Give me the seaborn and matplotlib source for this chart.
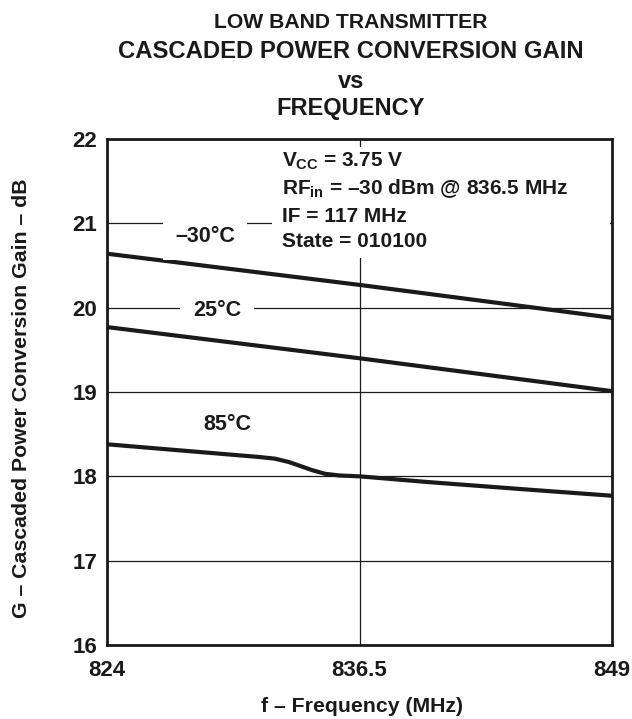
import numpy as np
import pandas as pd
import seaborn as sns
import matplotlib.pyplot as plt
from matplotlib.patches import Rectangle

# Data
freq_m30 = [824, 836.5, 849]
gain_m30 = [20.64, 20.27, 19.88]
freq_25 = [824, 836.5, 849]
gain_25 = [19.77, 19.40, 19.01]
freq_85 = [824, 827, 830, 831.5, 832.3, 833.0, 833.6, 834.2, 834.8, 835.5, 836.5, 840, 845, 849]
gain_85 = [18.38, 18.32, 18.26, 18.23, 18.21, 18.17, 18.12, 18.07, 18.03, 18.01, 18.00, 17.93, 17.84, 17.77]
labels = ["\u201330\u00b0C", "25\u00b0C", "85\u00b0C"]

x_ticks = [824, 836.5, 849]
x_ticklabels = ["824", "836.5", "849"]
y_ticks = [16, 17, 18, 19, 20, 21, 22]

df = pd.concat([
    pd.DataFrame({"f": freq_m30, "g": gain_m30, "T": labels[0]}),
    pd.DataFrame({"f": freq_25, "g": gain_25, "T": labels[1]}),
    pd.DataFrame({"f": freq_85, "g": gain_85, "T": labels[2]}),
])

sns.set_theme(style="white")
plt.rcParams["font.family"] = ["Liberation Sans", "DejaVu Sans"]
plt.rcParams["font.weight"] = "bold"
plt.rcParams["mathtext.fontset"] = "custom"
plt.rcParams["mathtext.rm"] = "Liberation Sans:bold"
plt.rcParams["mathtext.it"] = "Liberation Sans:bold"
plt.rcParams["mathtext.bf"] = "Liberation Sans:bold"

INK = "#1a1a1a"
W, H = 632, 719
fig = plt.figure(figsize=(W / 100, H / 100), dpi=100)
ax = fig.add_axes([107 / W, 1 - 645 / H, (612 - 107) / W, (645 - 139) / H])

sns.lineplot(data=df, x="f", y="g", hue="T", palette=[INK] * 3,
             legend=False, ax=ax, linewidth=3.0, sort=False, zorder=5)

ax.set_xlim(824, 849)
ax.set_ylim(16, 22)
ax.set_xticks(x_ticks)
ax.set_xticklabels(x_ticklabels)
ax.set_yticks(y_ticks)
ax.grid(True, color=INK, linewidth=0.9)
ax.set_axisbelow(True)
for s in ax.spines.values():
    s.set_linewidth(2.0)
    s.set_color(INK)
ax.tick_params(axis="both", length=0, labelsize=16, colors=INK)
ax.tick_params(axis="y", pad=7)
ax.tick_params(axis="x", pad=11)
for lab in ax.get_xticklabels() + ax.get_yticklabels():
    lab.set_fontweight("bold")
ax.set_xlabel("")
ax.set_ylabel("")

def ax_xy(px, py):
    return (px - 107) / 505, 1 - (py - 139) / 506

# White box behind the conditions block
x0, y0 = ax_xy(272, 258)
x1, y1 = ax_xy(610, 147)
ax.add_patch(Rectangle((x0, y0), x1 - x0, y1 - y0, transform=ax.transAxes,
                       facecolor="white", edgecolor="none", zorder=2))
cond = ["$V_{CC}$ = 3.75 V", "$RF_{in}$ = \u201330 dBm @ 836.5 MHz",
        "IF = 117 MHz", "State = 010100"]
for t, yp in zip(cond, [161, 189, 216, 242]):
    ax.text(*ax_xy(282, yp), t, transform=ax.transAxes,
            fontsize=15, fontweight="bold", color=INK, ha="left", va="center", zorder=6)

# Curve labels with white background
lbl_pos = [(205, 237), (217, 310), (227, 425)]
for t, (px, py) in zip(labels, lbl_pos):
    ax.text(*ax_xy(px, py), t, transform=ax.transAxes,
            fontsize=15.5, fontweight="bold", color=INK, ha="center", va="center",
            zorder=6, bbox=dict(facecolor="white", edgecolor="none", pad=9))

# Titles
tx = 351 / W
fig.text(tx, 1 - 22 / H, "LOW BAND TRANSMITTER", ha="center", va="center",
         fontsize=15.2, fontweight="bold", color=INK)
fig.text(tx, 1 - 52 / H, "CASCADED POWER CONVERSION GAIN", ha="center", va="center",
         fontsize=17.2, fontweight="bold", color=INK)
fig.text(tx, 1 - 81 / H, "vs", ha="center", va="center",
         fontsize=17, fontweight="bold", color=INK)
fig.text(tx, 1 - 108 / H, "FREQUENCY", ha="center", va="center",
         fontsize=17, fontweight="bold", color=INK)

fig.text(362 / W, 1 - 707 / H, "f \u2013 Frequency (MHz)", ha="center", va="center",
         fontsize=15.3, fontweight="bold", color=INK)
fig.text(22 / W, 1 - 398 / H, "G \u2013 Cascaded Power Conversion Gain \u2013 dB",
         ha="center", va="center", rotation=90, fontsize=15.3, fontweight="bold", color=INK)

fig.savefig("out.png", dpi=100, facecolor="white")
